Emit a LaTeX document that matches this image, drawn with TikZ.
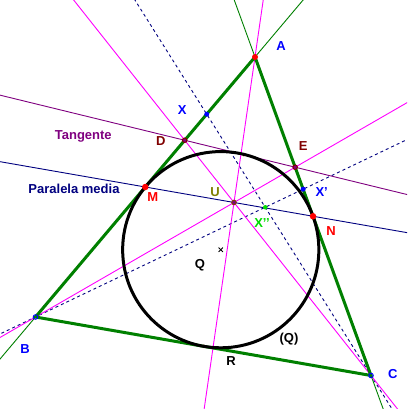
\documentclass[tikz,border=0pt]{standalone}
\usepackage{fontspec}
\setmainfont{Liberation Sans}
\usetikzlibrary{calc}
\definecolor{dgreen}{RGB}{0,128,0}
\definecolor{mag}{RGB}{255,0,255}
\definecolor{nav}{RGB}{0,0,128}
\definecolor{purp}{RGB}{128,0,128}
\definecolor{maroon}{RGB}{128,0,0}
\definecolor{lgreen}{RGB}{0,220,0}
\definecolor{olivec}{RGB}{128,128,0}
\definecolor{brownc}{RGB}{128,64,0}
\newcommand{\apo}{\char"27\relax}
\tikzset{
  thinline/.style={line width=0.9pt},
  dashline/.style={line width=0.9pt, nav, dash pattern=on 3pt off 3pt},
  side/.style={line width=3pt, dgreen, line cap=round},
  circ/.style={line width=3pt, black},
  lbl/.style={font=\fontsize{13}{15}\selectfont\bfseries, inner sep=0pt},
  fdot/.style={circle, inner sep=0pt, minimum size=#1},
}
\begin{document}
\begin{tikzpicture}[x=1pt,y=-1pt]
\useasboundingbox (0,0) rectangle (407,409);
\fill[white] (0,0) rectangle (407,409);
\clip (0,0) rectangle (407,409);
% points
\coordinate (A) at (255,57);
\coordinate (B) at (35.5,317);
\coordinate (C) at (371,375.5);
\coordinate (Q) at (220.75,249.7);
\coordinate (M) at ($(A)!0.5!(B)$);
\coordinate (N) at ($(A)!0.5!(C)$);
\coordinate (U) at ($(M)!0.529!(N)$);
\coordinate (R) at (intersection of A--U and B--C);
\coordinate (D) at (intersection of C--U and A--B);
\coordinate (E) at (intersection of B--U and A--C);
\coordinate (X) at ($(A)!0.22!(B)$);
\coordinate (X1) at ($(A)!0.415!(C)$);
\coordinate (X2) at (intersection of C--X and B--X1);
\coordinate (T) at ($(D)!(Q)!(E)$);
\coordinate (K) at ($(B)!(Q)!(C)$);
% thin green full lines
\draw[thinline, dgreen] ($(A)!-3!(B)$) -- ($(A)!4!(B)$);
\draw[thinline, dgreen] ($(A)!-3!(C)$) -- ($(A)!4!(C)$);
% dashed lines
\draw[dashline] ($(C)!-3!(X)$) -- ($(C)!4!(X)$);
\draw[dashline] ($(B)!-3!(X1)$) -- ($(B)!4!(X1)$);
% magenta cevians through U
\draw[thinline, mag] ($(A)!-3!(R)$) -- ($(A)!4!(R)$);
\draw[thinline, mag] ($(C)!-3!(D)$) -- ($(C)!4!(D)$);
\draw[thinline, mag] ($(B)!-3!(E)$) -- ($(B)!4!(E)$);
% tangent and mid parallel
\draw[thinline, purp] ($(D)!-4!(E)$) -- ($(D)!5!(E)$);
\draw[thinline, nav] ($(M)!-3!(N)$) -- ($(M)!4!(N)$);
% hidden small red points
\fill[red] (T) circle[radius=1.8];
\fill[red] (K) circle[radius=1.8];
% triangle
\draw[side] (A) -- (B) -- (C) -- cycle;
% incircle
\draw[circ] (Q) circle[radius=98.1];
% Q marker
\draw[line width=0.8pt] ($(Q)+(-2.2,-2.2)$) -- ($(Q)+(2.2,2.2)$);
\draw[line width=0.8pt] ($(Q)+(-2.2,2.2)$) -- ($(Q)+(2.2,-2.2)$);
% point markers
\node[fdot=6pt, fill=red] (pA) at (A) {};
\node[fdot=4.5pt, draw=blue, line width=1pt] (pB) at (B) {};
\node[fdot=4.5pt, draw=blue, line width=1pt] (pC) at (C) {};
\node[fdot=5pt, fill=blue] (pX) at (X) {};
\node[fdot=5pt, fill=blue] (pX1) at (X1) {};
\node[fdot=4.5pt, fill=lgreen] (pX2) at (X2) {};
\node[fdot=6.5pt, fill=red] (pM) at (M) {};
\node[fdot=6.5pt, fill=red] (pN) at (N) {};
\node[fdot=4.5pt, draw=maroon, fill=purp, line width=1pt] (pD) at (D) {};
\node[fdot=4.5pt, draw=maroon, fill=purp, line width=1pt] (pE) at (E) {};
\node[fdot=4.5pt, draw=brownc, fill=purp, line width=1pt] (pU) at (U) {};
% labels
\node[lbl, text=blue] (lA) at (281,45.7) {A};
\node[lbl, text=blue] (lB) at (25,349.3) {B};
\node[lbl, text=blue] (lC) at (392.7,374.3) {C};
\node[lbl, text=blue] (lX) at (182.3,110) {X};
\node[lbl, text=blue] (lX1) at (321.7,191.7) {X\apo};
\node[lbl, text=lgreen] (lX2) at (262,222.7) {X\apo\apo};
\node[lbl, text=maroon] (lD) at (160.7,141) {D};
\node[lbl, text=maroon] (lE) at (303.3,145.7) {E};
\node[lbl, text=red] (lM) at (152.7,197.3) {M};
\node[lbl, text=red] (lN) at (331,231) {N};
\node[lbl, text=olivec] (lU) at (215,191.7) {U};
\node[lbl] (lQ) at (200,265.7) {Q};
\node[lbl] (lR) at (231,361) {R};
\node[lbl] (lQQ) at (289,339) {(Q)};
\node[lbl, text=purp] (lT) at (83.3,136) {Tangente};
\node[lbl, text=nav] (lP) at (74,189.3) {Paralela media};
\end{tikzpicture}
\end{document}
